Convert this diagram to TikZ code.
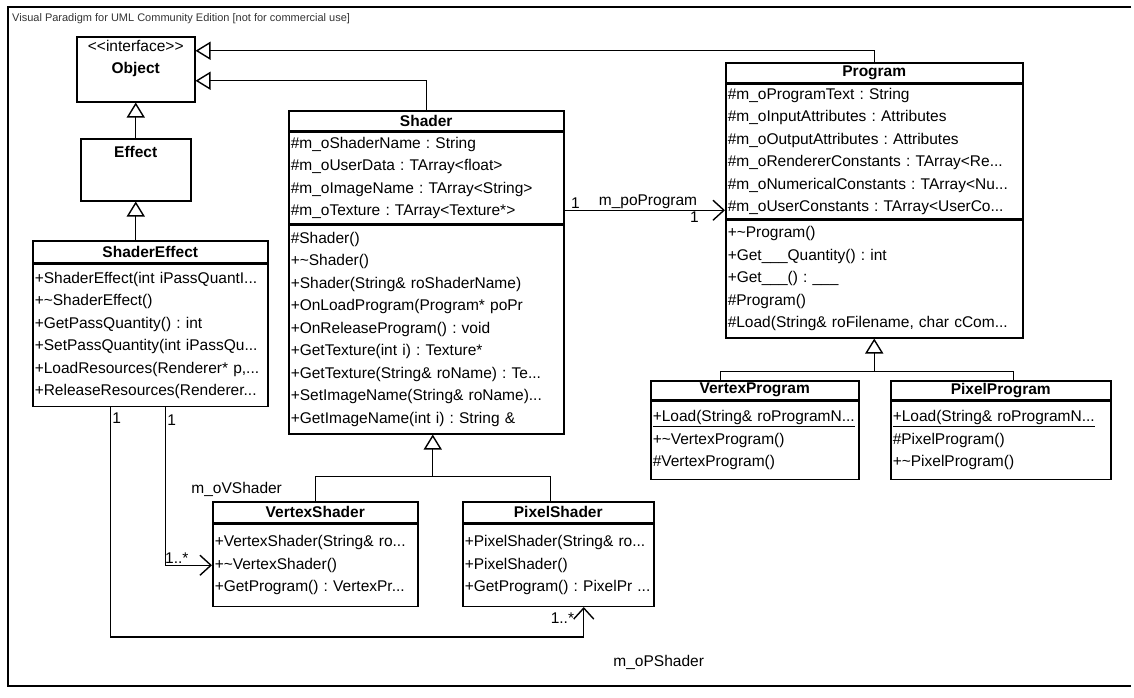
\documentclass[tikz,border=0pt]{standalone}
\usepackage{fontspec}
\setmainfont{Liberation Sans}
\newfontfamily\umlfont{Liberation Sans}
\usetikzlibrary{arrows.meta, positioning}

\begin{document}
\frenchspacing
\begin{tikzpicture}[x=1pt, y=-1pt,
  umlbox/.style={draw, line width=1.5pt, anchor=north west, align=center, inner xsep=2pt,
    font=\umlfont\fontsize{15.5}{22.5}\selectfont},
  umlhead/.style={umlbox, inner sep=0pt, minimum height=20pt,
    font=\umlfont\fontsize{15.5}{22.5}\selectfont\bfseries},
  umlbody/.style={umlbox, align=left, inner ysep=0pt},
  umlline/.style={line width=1.4pt},
  gen/.style={umlline, -{Triangle[open, length=15pt, width=18pt]}},
  assoc/.style={umlline, -{Straight Barb[length=11pt, width=20pt]}},
  mult/.style={font=\umlfont\fontsize{15.5}{18}\selectfont, inner sep=1pt}]
\useasboundingbox (0,0) rectangle (1134,697);

% frame and title
\draw[line width=1.6pt] (1131,7) -- (8,7) -- (8,686) -- (1131,686);
\node[anchor=west, inner sep=0pt, text=black!80, font=\umlfont\fontsize{11}{13}\selectfont] (title) at (12,19)
  {Visual Paradigm for UML Community Edition [not for commercial use]};

% Object and Effect
\node[umlbox, minimum width=118pt, minimum height=65pt, inner ysep=3pt, text depth=25pt] (object) at (76,36)
  {<<interface>>\\\textbf{Object}};
\node[umlbox, minimum width=110pt, minimum height=62pt, inner ysep=7pt, text depth=36pt] (effect) at (80,138)
  {\textbf{Effect}};

% ShaderEffect
\node[umlhead, minimum width=235pt, minimum height=22pt] (seffect) at (32,240) {ShaderEffect};
\node[umlbody, text width=231pt, minimum height=142pt] (seffect-m) at (seffect.south west) {
  +ShaderEffect(int iPassQuantI...\\
  +\textasciitilde ShaderEffect()\\
  +GetPassQuantity() : int\\
  +SetPassQuantity(int iPassQu...\\
  +LoadResources(Renderer* p,...\\
  +ReleaseResources(Renderer...};

% Shader
\node[umlhead, minimum width=275pt] (shader) at (288,110) {Shader};
\node[umlbody, text width=271pt, minimum height=91pt] (shader-a) at (shader.south west) {
  \#m\_oShaderName : String\\
  \#m\_oUserData : TArray<float>\\
  \#m\_oImageName : TArray<String>\\
  \#m\_oTexture : TArray<Texture*>};
\node[umlbody, text width=271pt, minimum height=209pt] (shader-m) at (shader-a.south west) {
  \#Shader()\\
  +\textasciitilde Shader()\\
  +Shader(String\& roShaderName)\\
  +OnLoadProgram(Program* poPr\\
  +OnReleaseProgram() : void\\
  +GetTexture(int i) : Texture*\\
  +GetTexture(String\& roName) : Te...\\
  +SetImageName(String\& roName)...\\
  +GetImageName(int i) : String \&};

% Program
\node[umlhead, minimum width=297pt] (program) at (725,62) {Program};
\node[umlbody, text width=293pt, minimum height=134pt] (program-a) at (program.south west) {
  \#m\_oProgramText : String\\
  \#m\_oInputAttributes : Attributes\\
  \#m\_oOutputAttributes : Attributes\\
  \#m\_oRendererConstants : TArray<Re...\\
  \#m\_oNumericalConstants : TArray<Nu...\\
  \#m\_oUserConstants : TArray<UserCo...};
\node[umlbody, text width=293pt, minimum height=118pt] (program-m) at (program-a.south west) {
  +\textasciitilde Program()\\
  +Get\_\_\_Quantity() : int\\
  +Get\_\_\_() : \_\_\_\\
  \#Program()\\
  \#Load(String\& roFilename, char cCom...};

% VertexProgram and PixelProgram
\node[umlhead, minimum width=208pt, minimum height=19pt] (vprog) at (650,380) {VertexProgram};
\node[umlbody, text width=204pt, minimum height=78pt] (vprog-m) at (vprog.south west) {
  \underline{+Load(String\& roProgramN...}\\
  +\textasciitilde VertexProgram()\\
  \#VertexProgram()};
\node[umlhead, minimum width=220pt, minimum height=19pt] (pprog) at (890,380) {PixelProgram};
\node[umlbody, text width=216pt, minimum height=78pt] (pprog-m) at (pprog.south west) {
  \underline{+Load(String\& roProgramN...}\\
  \#PixelProgram()\\
  +\textasciitilde PixelProgram()};

% VertexShader and PixelShader
\node[umlhead, minimum width=205pt, minimum height=21pt] (vshader) at (212,501) {VertexShader};
\node[umlbody, text width=201pt, minimum height=82pt] (vshader-m) at (vshader.south west) {
  +VertexShader(String\& ro...\\
  +\textasciitilde VertexShader()\\
  +GetProgram() : VertexPr...};
\node[umlhead, minimum width=191pt, minimum height=21pt] (pshader) at (462,501) {PixelShader};
\node[umlbody, text width=187pt, minimum height=82pt] (pshader-m) at (pshader.south west) {
  +PixelShader(String\& ro...\\
  +PixelShader()\\
  +GetProgram() : PixelPr~...};

% Generalizations
\draw[gen] (effect.north) -- (object.south);
\draw[gen] (seffect.north -| effect.south) -- (effect.south);
\draw[gen] (program.north) |- ([yshift=18.5pt]object.east);
\draw[gen] (shader.north) |- ([yshift=-11.5pt]object.east);

\coordinate (pgjoin) at ([yshift=-33pt]program-m.south);
\draw[umlline] ([xshift=-34pt]vprog.north) |- (pgjoin) -| ([xshift=13pt]pprog.north);
\draw[gen] (pgjoin) -- (program-m.south);

\coordinate (shjoin) at ([xshift=6.5pt, yshift=-42pt]shader-m.south);
\draw[umlline] (vshader.north) |- (shjoin) -| ([xshift=-7.5pt]pshader.north);
\draw[gen] (shjoin) -- ([xshift=6.5pt]shader-m.south);

% Associations
\coordinate (poprog) at ([yshift=-32.5pt]shader-a.east);
\draw[assoc] (poprog) -- (poprog -| program-a.west)
  node[mult, pos=0.03, anchor=south west] {1}
  node[mult, pos=0.52, above] {m\_poProgram}
  node[mult, pos=0.81, below] {1};

\draw[assoc] ([xshift=15.5pt]seffect-m.south) |- (vshader-m.west)
  node[mult, pos=0.04, right] {1}
  node[mult, pos=0.26, right=24pt] {m\_oVShader}
  node[mult, pos=0.62, above] {1..*};

\draw[assoc] ([xshift=-39.5pt]seffect-m.south) -- ++(0,230)
  node[mult, pos=0.05, right] {1}
  -| ([xshift=25.5pt]pshader-m.south)
  node[mult, pos=0.82, left=8pt] {1..*}
  node[mult, pos=0.5, anchor=north west, xshift=28pt, yshift=-17pt] {m\_oPShader};
\end{tikzpicture}
\end{document}
